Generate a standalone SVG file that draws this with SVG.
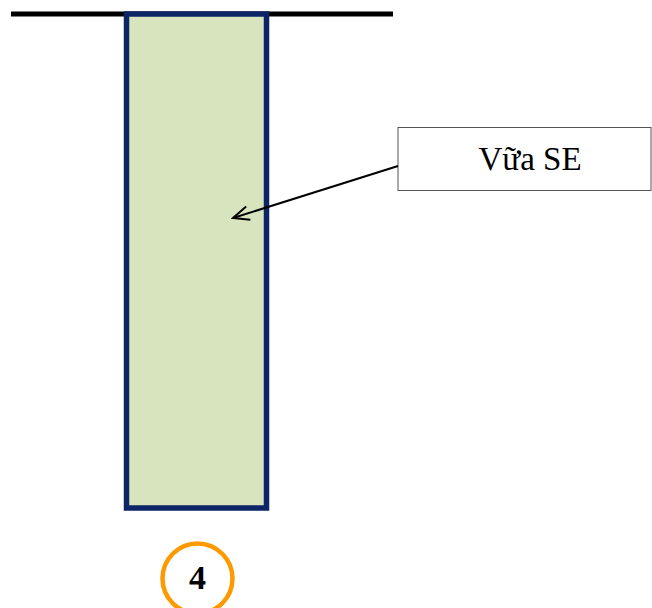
<svg xmlns="http://www.w3.org/2000/svg" width="652" height="608" viewBox="0 0 652 608">
<defs>
<marker id="open" markerWidth="20" markerHeight="20" refX="18" refY="8" orient="auto" markerUnits="userSpaceOnUse">
<path d="M2,1 L18,8 L2,15" fill="none" stroke="#000" stroke-width="2"/>
</marker>
</defs>
<rect width="652" height="608" fill="#fff"/>
<g id="ground">
<line x1="11" y1="14" x2="393" y2="14" stroke="#000" stroke-width="5"/>
</g>
<g id="pile">
<rect x="126.5" y="14" width="140" height="494" fill="#D7E4BD" stroke="#0D2466" stroke-width="5.5"/>
</g>
<g id="label">
<rect x="398" y="127.5" width="253" height="63" fill="#fff" stroke="#555" stroke-width="1"/>
<text x="530" y="170" font-family="'Liberation Serif', 'DejaVu Serif', serif" font-size="33" text-anchor="middle" fill="#000">Vữa SE</text>
</g>
<g id="number">
<circle cx="197.5" cy="578.5" r="35" fill="none" stroke="#FF9900" stroke-width="4.5"/>
<text x="197.5" y="589" font-family="'Liberation Serif', 'DejaVu Serif', serif" font-size="34" font-weight="bold" text-anchor="middle" fill="#000">4</text>
</g>
<g id="connectors">
<line x1="398" y1="166" x2="233" y2="218" stroke="#000" stroke-width="2" marker-end="url(#open)"/>
</g>
</svg>
